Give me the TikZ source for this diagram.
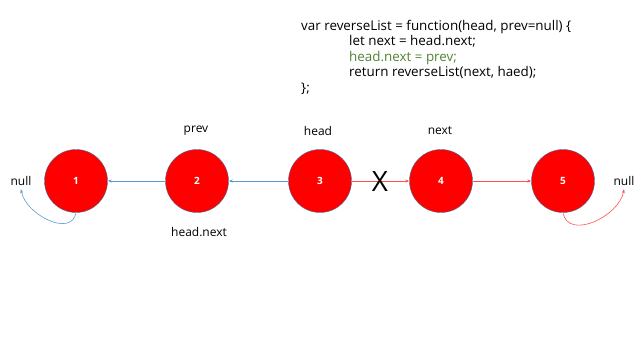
\documentclass[tikz,border=0pt]{standalone}
\usepackage{fontspec}
\setmainfont{Open Sans}
\usetikzlibrary{arrows.meta,positioning}
\definecolor{lnkblue}{HTML}{5B9BD5}
\definecolor{lnkred}{HTML}{FF5050}
\definecolor{rimblue}{HTML}{41719C}
\definecolor{codegreen}{HTML}{538135}

\begin{document}
\begin{tikzpicture}[x=1pt,y=-1pt,
  listnode/.style={circle,fill=red,draw=rimblue,line width=0.4pt,minimum size=63pt,inner sep=0pt,
    text=white,font=\fontsize{10}{12}\selectfont\bfseries},
  tag/.style={font=\fontsize{12}{14}\selectfont},
  bluelink/.style={draw=lnkblue,line width=0.6pt,-{Stealth[length=4pt,width=3pt]}},
  redlink/.style={draw=lnkred,line width=0.6pt,-{Stealth[length=4pt,width=3pt]}}]
\useasboundingbox (0,0) rectangle (640,360);

% code
\node[anchor=north west,align=left,inner sep=0pt,font=\fontsize{13.4}{15.4}\selectfont] (code) at (301,20)
  {var reverseList = function(head, prev=null) \{\\
   \hspace*{48pt}let next = head.next;\\
   \hspace*{48pt}\textcolor{codegreen}{head.next = prev;}\\
   \hspace*{48pt}return reverseList(next, haed);\\
   \};};

% list
\node[listnode] (n1) at (76,181) {1};
\node[listnode] (n2) at (197,181) {2};
\node[listnode] (n3) at (320,181) {3};
\node[listnode] (n4) at (441,181) {4};
\node[listnode] (n5) at (563,181) {5};

\node[tag] (nullL) at (21,181) {null};
\node[tag] (nullR) at (624,181) {null};
\node[tag] (prev) at (196,131) {prev};
\node[tag] (head) at (318,131) {head};
\node[tag] (next) at (440,131) {next};
\node[tag] (hnext) at (199,232) {head.next};

\draw[bluelink] (n2) -- (n1);
\draw[bluelink] (n3) -- (n2);
\draw[redlink] (n3) -- (n4);
\draw[redlink] (n4) -- (n5);
\node[font=\fontsize{28}{30}\selectfont] (cut) at (380,181) {X};

\draw[bluelink] (n1.south) to[out=-100,in=-80,looseness=1.1] (nullL.south);
\draw[redlink] (n5.south) to[out=-80,in=-100,looseness=1.1] (nullR.south);
\end{tikzpicture}
\end{document}
